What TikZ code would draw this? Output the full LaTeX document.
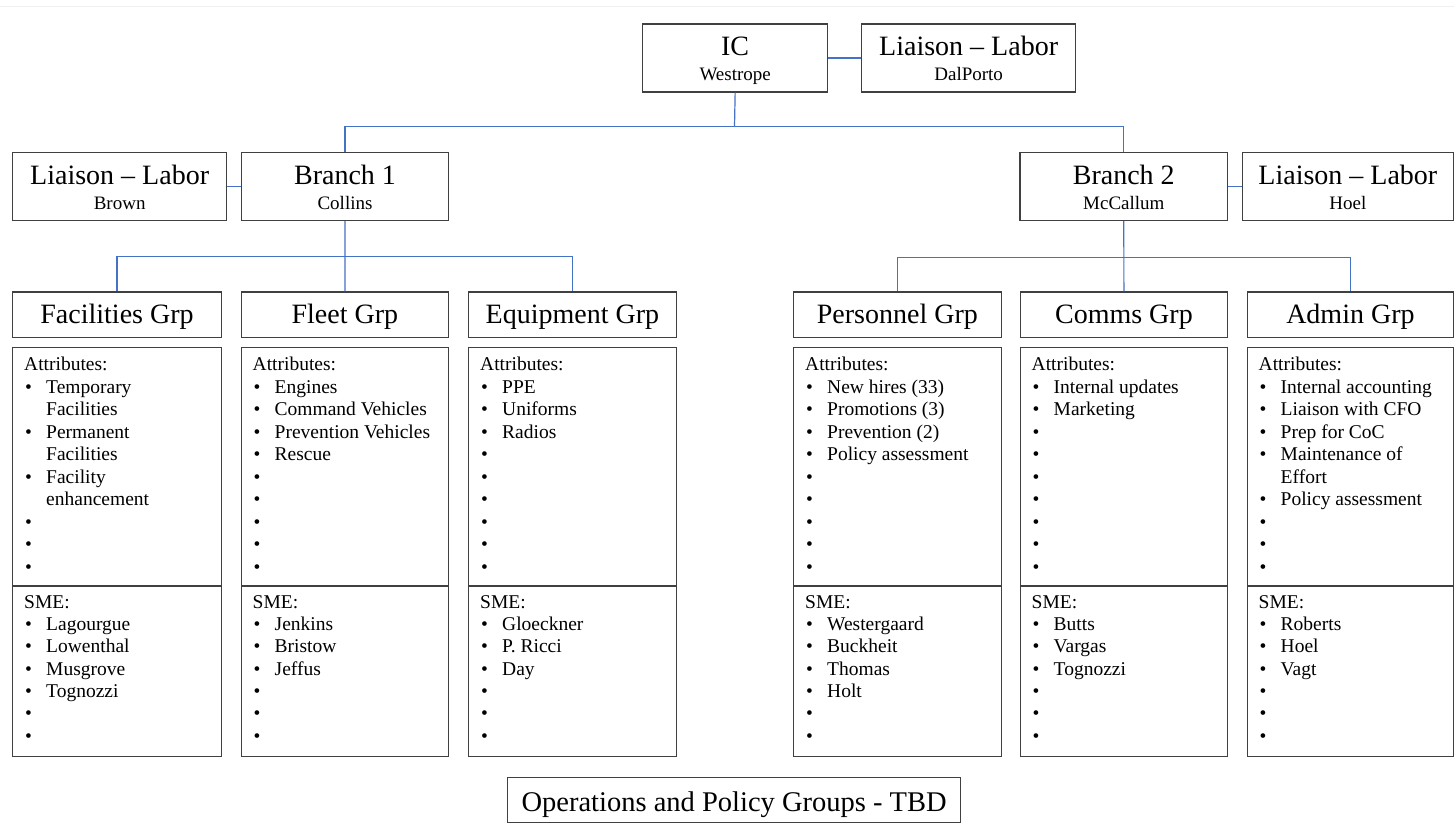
\documentclass[tikz,border=0pt]{standalone}
\usepackage{fontspec}
\setmainfont{Liberation Serif}
\definecolor{connc}{HTML}{4472C4}
\definecolor{bord}{HTML}{404040}
\tikzset{
 boxst/.style={draw=bord, line width=1.3pt, inner sep=0pt, anchor=north west, fill=white},
 big/.style={font=\fontsize{28}{30}\selectfont, inner sep=0pt, anchor=base},
 small/.style={font=\fontsize{19}{21}\selectfont, inner sep=0pt, anchor=base},
 body/.style={font=\fontsize{19.5}{22.5}\selectfont, inner sep=0pt, anchor=base west},
 link/.style={draw=connc, line width=1.2pt},
}
\newcommand\hd[1]{#1\par}
\newcommand\bi[1]{\leavevmode\hbox to 22pt{\hskip1pt\textbullet\hfil}#1\par}
\newcommand\cl[1]{\leavevmode\hskip22pt #1\par}
\newcommand\tbox[7]{%
 \node[boxst, minimum width=#4pt, minimum height=#5pt] (#1) at (#2,#3) {};
 \node[big] (#1t) at ([yshift=-32.5pt]#1.north) {#6};
 \node[small] (#1s) at ([yshift=-57pt]#1.north) {#7};
}
\newcommand\gbox[6]{%
 \node[boxst, minimum width=#3pt, minimum height=45.4pt] (#1) at (#2,291.3) {};
 \node[big] (#1t) at ([yshift=-32pt]#1.north) {#4};
 \node[boxst, minimum width=#3pt, minimum height=238.5pt] (#1a) at (#2,346.7) {};
 \node[body] (#1at) at ([xshift=12pt,yshift=-24pt]#1a.north west)
   {\vtop{\hsize=#3pt\advance\hsize by -14pt\parindent=0pt\baselineskip=22.5pt #5}};
 \node[boxst, minimum width=#3pt, minimum height=170.5pt] (#1s) at (#2,585.2) {};
 \node[body] (#1st) at ([xshift=12pt,yshift=-23pt]#1s.north west)
   {\vtop{\hsize=#3pt\advance\hsize by -14pt\parindent=0pt\baselineskip=22.3pt #6}};
}
\begin{document}
\begin{tikzpicture}[x=1pt,y=-1pt]
\useasboundingbox (0,0) rectangle (1454,828);
\draw[black!6, line width=1pt] (0,6.5) -- (1454,6.5);

% top level
\tbox{ic}{642}{23.3}{185}{68}{IC}{Westrope}
\tbox{lt}{861}{23.3}{214}{68}{Liaison – Labor}{DalPorto}
\tbox{lb}{12}{152}{214}{67.5}{Liaison – Labor}{Brown}
\tbox{b1}{240.7}{152}{207.3}{67.5}{Branch 1}{Collins}
\tbox{b2}{1019.3}{152}{207.7}{67.5}{Branch 2}{McCallum}
\tbox{lh}{1241.7}{152}{211}{67.5}{Liaison – Labor}{Hoel}

% groups
\gbox{fac}{12}{208.7}{Facilities Grp}
 {\hd{Attributes:}\bi{Temporary}\cl{Facilities}\bi{Permanent}\cl{Facilities}\bi{Facility}\cl{enhancement}\bi{}\bi{}\bi{}}
 {\hd{SME:}\bi{Lagourgue}\bi{Lowenthal}\bi{Musgrove}\bi{Tognozzi}\bi{}\bi{}}
\gbox{fleet}{240.5}{207.5}{Fleet Grp}
 {\hd{Attributes:}\bi{Engines}\bi{Command Vehicles}\bi{Prevention Vehicles}\bi{Rescue}\bi{}\bi{}\bi{}\bi{}\bi{}}
 {\hd{SME:}\bi{Jenkins}\bi{Bristow}\bi{Jeffus}\bi{}\bi{}\bi{}}
\gbox{equip}{468}{207.5}{Equipment Grp}
 {\hd{Attributes:}\bi{PPE}\bi{Uniforms}\bi{Radios}\bi{}\bi{}\bi{}\bi{}\bi{}\bi{}}
 {\hd{SME:}\bi{Gloeckner}\bi{P. Ricci}\bi{Day}\bi{}\bi{}\bi{}}
\gbox{pers}{793}{207.5}{Personnel Grp}
 {\hd{Attributes:}\bi{New hires (33)}\bi{Promotions (3)}\bi{Prevention (2)}\bi{Policy assessment}\bi{}\bi{}\bi{}\bi{}\bi{}}
 {\hd{SME:}\bi{Westergaard}\bi{Buckheit}\bi{Thomas}\bi{Holt}\bi{}\bi{}}
\gbox{comms}{1019.5}{207.5}{Comms Grp}
 {\hd{Attributes:}\bi{Internal updates}\bi{Marketing}\bi{}\bi{}\bi{}\bi{}\bi{}\bi{}\bi{}}
 {\hd{SME:}\bi{Butts}\bi{Vargas}\bi{Tognozzi}\bi{}\bi{}\bi{}}
\gbox{admin}{1246.5}{206.5}{Admin Grp}
 {\hd{Attributes:}\bi{Internal accounting}\bi{Liaison with CFO}\bi{Prep for CoC}\bi{Maintenance of}\cl{Effort}\bi{Policy assessment}\bi{}\bi{}\bi{}}
 {\hd{SME:}\bi{Roberts}\bi{Hoel}\bi{Vagt}\bi{}\bi{}\bi{}}

% bottom
\node[boxst, minimum width=453pt, minimum height=45pt] (ops) at (507,776.7) {};
\node[big, font=\fontsize{28.5}{30}\selectfont] (opst) at ([yshift=-35pt]ops.north) {Operations and Policy Groups - TBD};

% connectors
\coordinate (j0) at (734.5,126.7);
\coordinate (j1) at (344.3,256.3);
\coordinate (j2) at (1123.2,257.5);
\draw[link] (ic.east) -- (lt.west);
\draw[link] (lb.east) -- (b1.west);
\draw[link] (b2.east) -- (lh.west);
\draw[link] (ic.south) -- (j0);
\draw[link] (b1.north) |- (j0) -| (b2.north);
\draw[link] (b1.south) -- (fleet.north);
\draw[link] (fac.north) |- (j1) -| (equip.north);
\draw[link] (b2.south) -- (comms.north);
\draw[link] (pers.north) |- (j2) -| (admin.north);
\end{tikzpicture}
\end{document}
